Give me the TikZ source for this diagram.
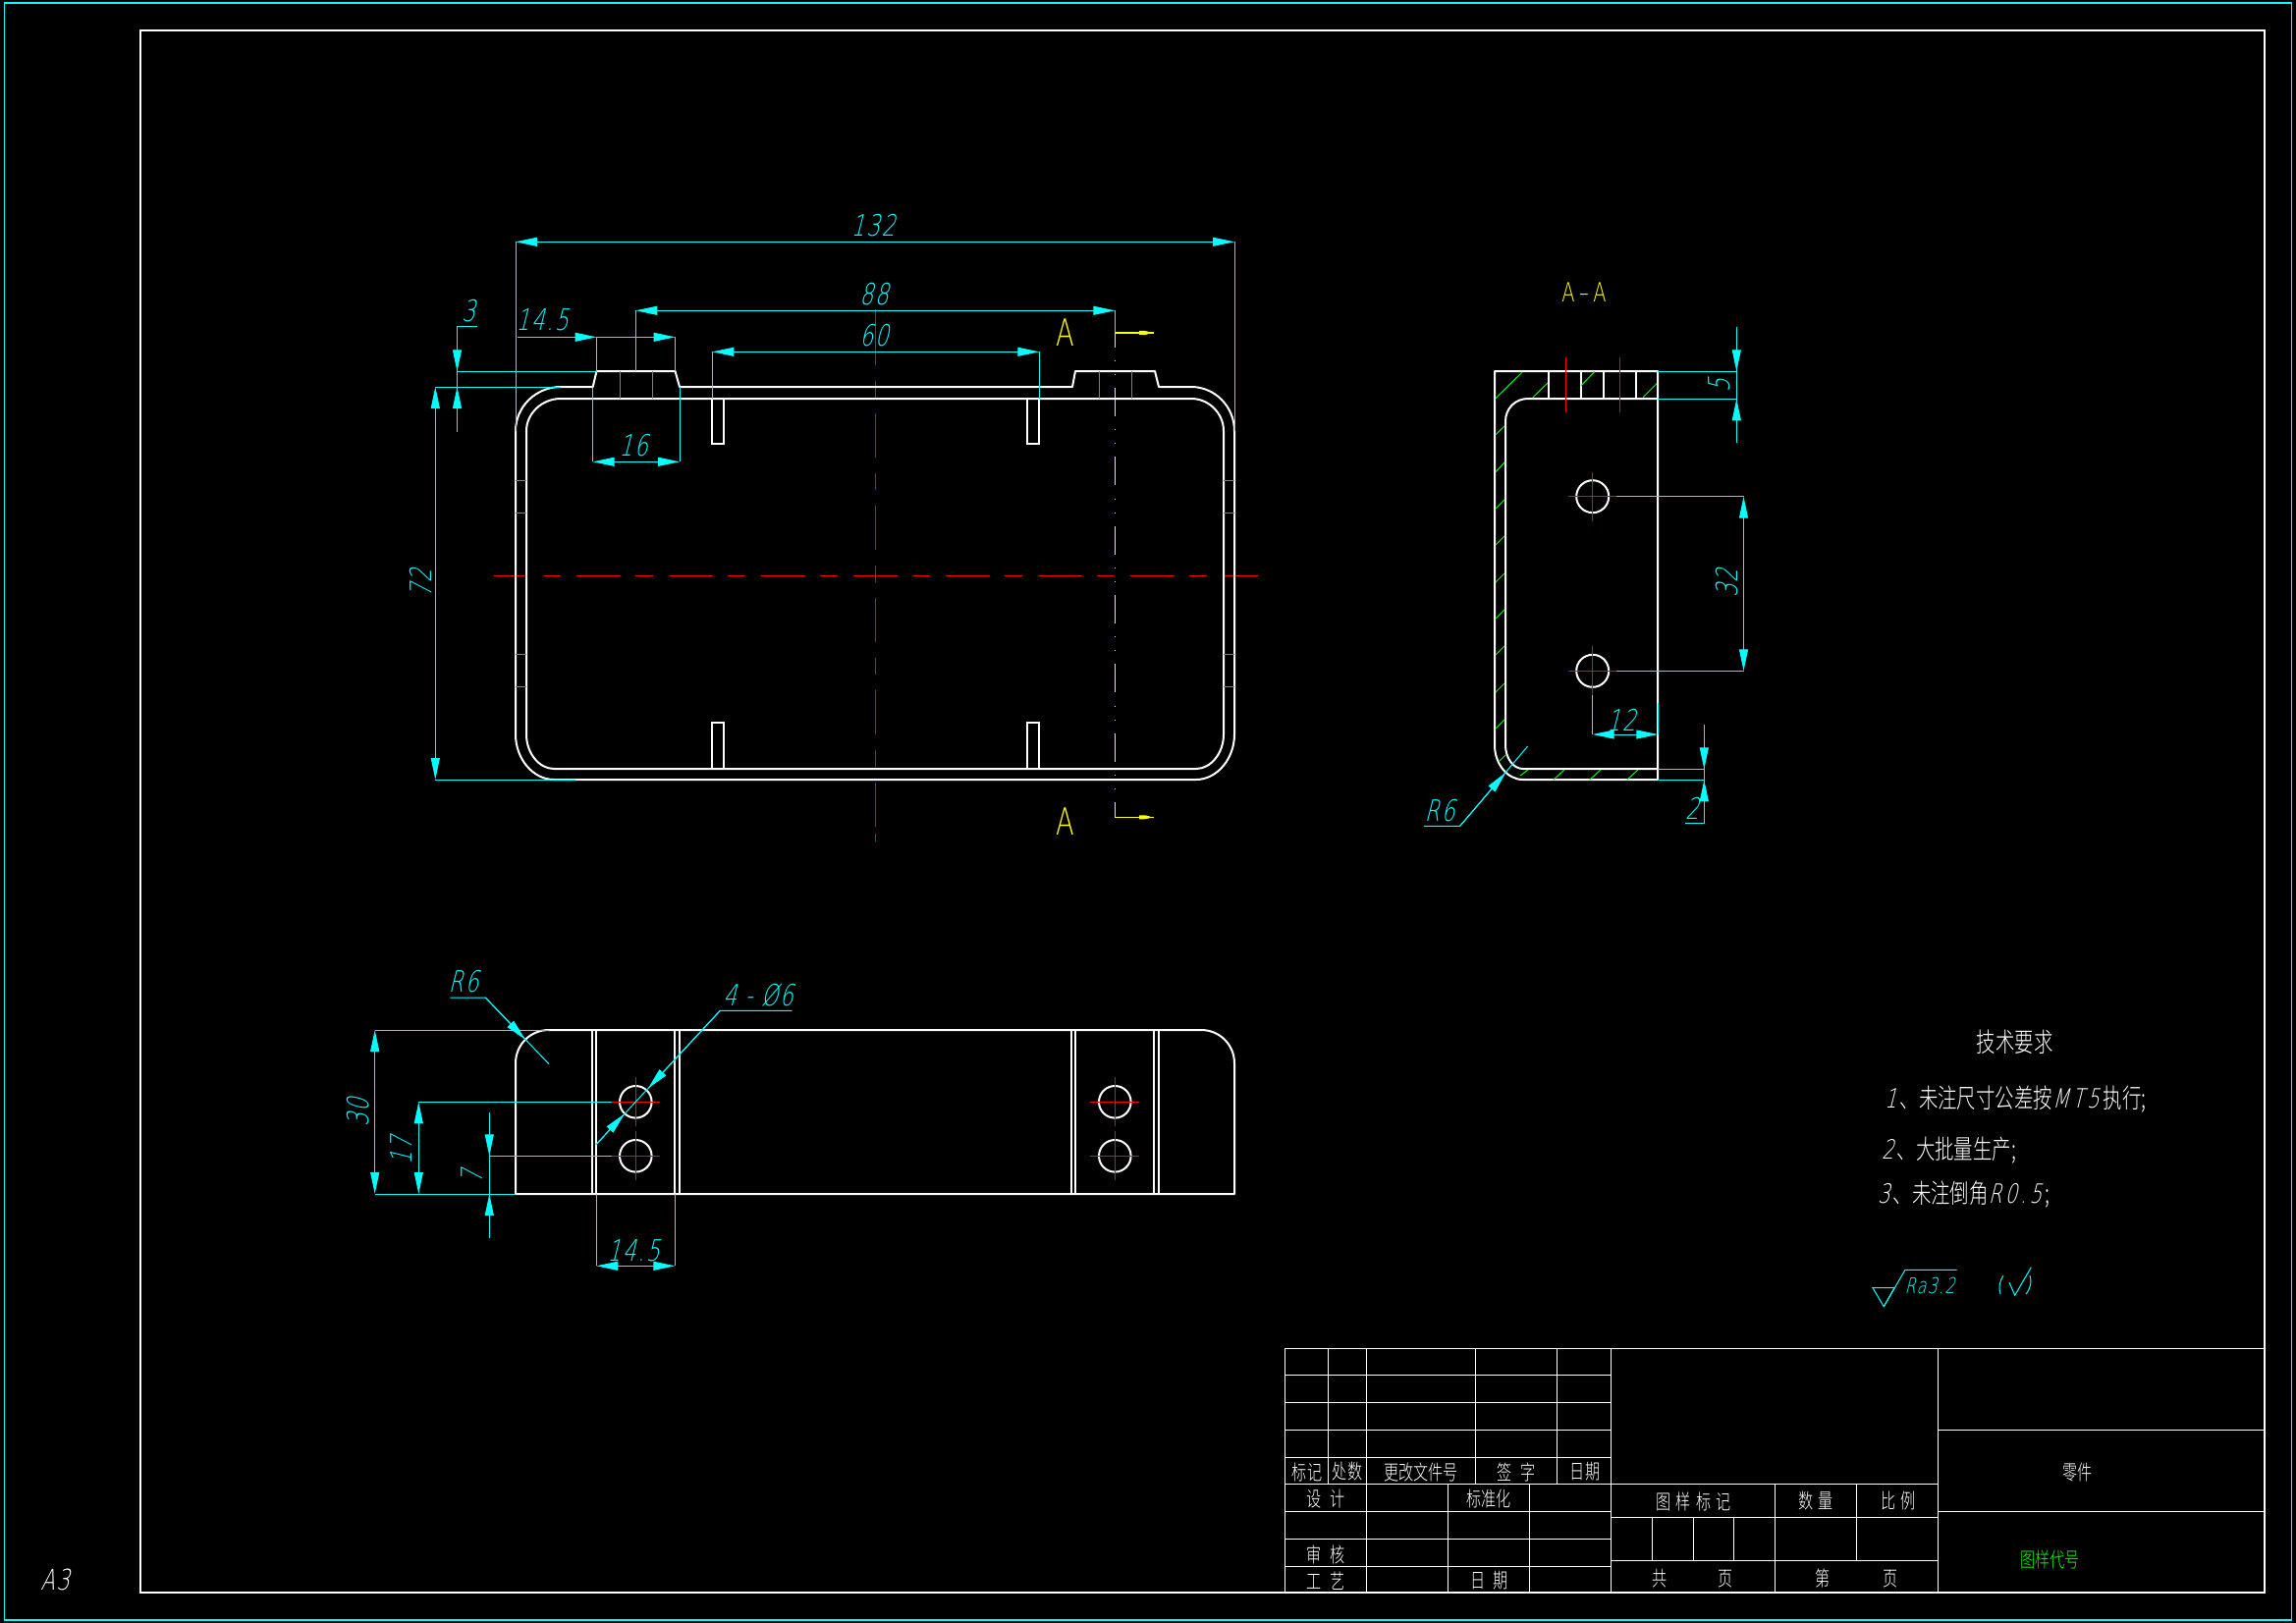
\documentclass[tikz,border=0pt]{standalone}
\usepackage{fontspec}
\usetikzlibrary{arrows.meta}
\newfontfamily\dimf[FakeSlant=0.25,FakeStretch=.72,LetterSpace=6]{DejaVu Sans ExtraLight}
\newfontfamily\latw[FakeSlant=0.25,FakeStretch=.72,LetterSpace=12]{DejaVu Sans ExtraLight}
\newfontfamily\dimu[FakeStretch=.72]{DejaVu Sans ExtraLight}
\newfontfamily\cjk[FakeStretch=.72]{Noto Sans CJK SC Light}
\definecolor{cy}{RGB}{0,255,255}
\definecolor{yl}{RGB}{255,255,0}
\definecolor{rd}{RGB}{255,0,0}
\definecolor{gn}{RGB}{0,255,0}
\definecolor{gy}{RGB}{128,128,128}
\newcommand{\sz}[1]{\fontsize{#1}{#1}\selectfont}
\tikzset{
  >={Triangle[length=22pt,width=9pt]},
  obj/.style={draw=white,line width=2pt},
  thin1/.style={draw=white,line width=1.1pt},
  dimln/.style={draw=cy,line width=1pt},
  gryln/.style={draw=gy,line width=1pt},
  redln/.style={draw=rd,line width=1.3pt},
  yelln/.style={draw=yl,line width=1.3pt},
  hat/.style={draw=gn,line width=1pt},
  dimt/.style={text=cy,inner sep=0pt,font=\dimf\sz{30}},
  secT/.style={text=yl,inner sep=0pt,font=\dimu\sz{38}},
  tb/.style={text=white,inner sep=0pt,font=\cjk\sz{21}},
  req/.style={text=white,inner sep=0pt,anchor=west,font=\sz{27}},
}
\begin{document}
\begin{tikzpicture}[x=1pt,y=-1pt]
\useasboundingbox (0,0) rectangle (2338,1653);
\fill[black] (0,0) rectangle (2338,1653);
% frames
\draw[dimln,line width=1.3pt] (4.5,3) rectangle (2333.5,1650);
\draw[obj] (143,31) rectangle (2306,1622);
% centre lines
\draw[redln] (891.5,315)--(891.5,372);
\draw[redln,dash pattern=on 17pt off 16pt on 45pt off 16pt] (891.5,388)--(891.5,857);
\draw[redln] (891.5,849)--(891.5,857);
\draw[redln] (503,586.3)--(537,586.3);
\draw[redln,dash pattern=on 18pt off 16pt on 45pt off 15pt] (553,586.3)--(1281,586.3);
\draw[yelln] (1135.3,339)--(1135.3,353.7);
\draw[yelln,dash pattern=on 1pt off 13pt on 1pt off 13pt on 29pt off 13.3pt] (1135.3,367)--(1135.3,832.3);
\draw[yelln] (1135.3,339)--(1175,339);
\fill[yl] (1160,337)--(1166,337)--(1171,338.2)--(1171,339.8)--(1166,341)--(1160,341)--cycle;
\draw[yelln] (1135.3,832.3)--(1175,832.3);
\fill[yl] (1160,830.3)--(1166,830.3)--(1171,831.5)--(1171,833.1)--(1166,834.3)--(1160,834.3)--cycle;
\node[secT] (secAtop) at (1085,339) {A};
\node[secT] (secAbot) at (1085.3,837) {A};
\node[secT,font=\dimu\sz{27}] (secAA) at (1613,297.5) {A\,–\,A};
% front view: outer and inner contour
\draw[obj,line join=round] (525,439)--(525,748) .. controls (525,773) and (543,794) .. (564,794)--(1218,794) .. controls (1239,794) and (1257,773) .. (1257,748)--(1257,439) .. controls (1257,414) and (1237,394) .. (1213,394)--(1180,394)--(1176,378)--(1095,378)--(1092,394)--(692,394)--(687.5,378)--(607.5,378)--(603.7,394)--(571,394) .. controls (546,394) and (525,414) .. (525,439)--cycle;
\draw[obj,line join=round] (536,439)--(536,748) .. controls (536,767) and (549,783) .. (564,783)--(1218,783) .. controls (1233,783) and (1246,767) .. (1246,748)--(1246,439) .. controls (1246,421) and (1231,406) .. (1213,406)--(571,406) .. controls (552,406) and (536,421) .. (536,439)--cycle;
\draw[obj] (725.4,406)--(725.4,452)--(736.5,452)--(736.5,406);
\draw[obj] (1045.7,406)--(1045.7,452)--(1058.3,452)--(1058.3,406);
\draw[obj] (725.4,783)--(725.4,736)--(736.5,736)--(736.5,783);
\draw[obj] (1045.7,783)--(1045.7,736)--(1058.3,736)--(1058.3,783);
\foreach \x in {631,664.5,1119,1152} \draw[gryln] (\x,378)--(\x,406);
\foreach \y in {489,522,666.3,699.3} {
  \draw[gryln] (525,\y)--(536,\y);
  \draw[gryln] (1246,\y)--(1257,\y);
}
% front view dimensions
\draw[dimln] (525,439)--(525,246.3);
\draw[dimln] (1257,439)--(1257,246.3);
\draw[dimln,<->] (525,246.3)--(1257,246.3);
\node[dimt] (d132) at (889,230) {132};
\draw[dimln] (647.3,378)--(647.3,316.3);
\draw[dimln] (1135.3,316.3)--(1135.3,339);
\draw[dimln,<->] (647.3,316.3)--(1135.3,316.3);
\node[dimt] (d88) at (890,300) {88};
\draw[dimln] (725.4,406)--(725.4,358.3);
\draw[dimln] (1058.3,406)--(1058.3,358.3);
\draw[dimln,<->] (725.4,358.3)--(1058.3,358.3);
\node[dimt] (d60) at (890,342) {60};
\draw[dimln] (607.5,378)--(607.5,343.3);
\draw[dimln] (687.5,378)--(687.5,343.3);
\draw[dimln,->] (527,343.3)--(607.5,343.3);
\draw[dimln,<-] (687.5,343.3)--(640,343.3)--(607.5,343.3);
\node[dimt] (d145a) at (552,326) {14.5};
\draw[dimln] (603.7,394)--(603.7,470.3);
\draw[dimln] (692,394)--(692,470.3);
\draw[dimln,<->] (603.7,470.3)--(692,470.3);
\node[dimt] (d16) at (645,454) {16};
\draw[dimln] (485.8,333)--(465.5,333)--(465.5,440);
\draw[dimln,->] (465.5,333)--(465.5,378.3);
\draw[dimln,->] (465.5,440)--(465.5,394);
\draw[dimln] (465.5,378.3)--(607.5,378.3);
\node[dimt] (d3) at (477,317) {3};
\draw[dimln] (571,394)--(443.3,394);
\draw[dimln] (585.7,794)--(443.3,794);
\draw[dimln,<->] (443.3,394)--(443.3,794);
\node[dimt,rotate=90] (d72) at (428,594) {72};
% section view
\draw[obj,line join=round] (1522,759)--(1522,378)--(1688,378)--(1688,794)--(1550.7,794) .. controls (1535,794) and (1522,778) .. (1522,759)--cycle;
\draw[obj,line join=round] (1688,406)--(1556,406) .. controls (1543,406) and (1533,416) .. (1533,429)--(1533,759) .. controls (1533,772) and (1541,783) .. (1550.7,783)--(1688,783);
\foreach \x in {1577,1610,1633,1666} \draw[obj] (\x,378)--(\x,406);
\foreach \a/\b/\c/\d in {1523/405.7/1550/379,1560.7/405/1576/390,1610/392.7/1624/378.3,1673/404.7/1687/390.7,1523/442.7/1532/434,1523/480.7/1532/471,1523/518/1532/509,1523/555/1532/546,1523/593/1532/584,1523/630/1532/621,1523/667/1532/658,1523/705/1532/696,1523/742/1532/733,1527/775/1533/769,1548/790/1556/784,1582/794/1593/784,1619/794/1630/784,1657/794/1668/784}
  \draw[hat] (\a,\b)--(\c,\d);
\draw[redln] (1594.3,364)--(1594.3,419.7);
\draw[redln] (1649.3,364)--(1649.3,419.7);
\draw[obj] (1621.7,505.7) circle[radius=16.5];
\draw[obj] (1621.7,683.3) circle[radius=16.5];
\foreach \y in {505.7,683.3} {
  \draw[redln] (1597,\y)--(1646,\y);
  \draw[redln] (1621.7,\y-25)--(1621.7,\y+25);
}
% section dimensions
\draw[dimln] (1688,378.3)--(1768.3,378.3);
\draw[dimln] (1688,406.3)--(1768.3,406.3);
\draw[dimln] (1768.3,333)--(1768.3,451);
\draw[dimln,->] (1768.3,333)--(1768.3,378.3);
\draw[dimln,->] (1768.3,451)--(1768.3,406.3);
\node[dimt,rotate=90] (d5) at (1751,393) {5};
\draw[dimln] (1646,505.7)--(1775.5,505.7);
\draw[dimln] (1646,683.3)--(1775.5,683.3);
\draw[dimln,<->] (1775.5,505.7)--(1775.5,683.3);
\node[dimt,rotate=90] (d32) at (1759,594) {32};
\draw[dimln] (1621.7,708)--(1621.7,748);
\draw[dimln] (1688.3,716)--(1688.3,748);
\draw[dimln,<->] (1621.7,748)--(1688.3,748);
\node[dimt] (d12) at (1651,733) {12};
\draw[dimln] (1688,783.3)--(1735.3,783.3);
\draw[dimln] (1688,794.3)--(1735.3,794.3);
\draw[dimln] (1735.3,738)--(1735.3,838)--(1716,838);
\draw[dimln,->] (1735.3,738)--(1735.3,783.3);
\draw[dimln,->] (1735.3,838)--(1735.3,794.3);
\node[dimt] (d2) at (1723,823) {2};
\draw[dimln] (1450,841.3)--(1486.7,841.3)--(1555.7,760);
\draw[dimln,->] (1486.7,841.3)--(1533.3,786.7);
\node[dimt] (r6a) at (1466,826) {R6};
% bottom view
\draw[obj,line join=round] (525,1083)--(525,1216)--(1257,1216)--(1257,1083) .. controls (1257,1064) and (1242,1049) .. (1223,1049)--(559,1049) .. controls (540,1049) and (525,1064) .. (525,1083)--cycle;
\foreach \x in {603.3,607.3,687.3,692,1091,1095,1175,1180} \draw[obj] (\x,1049)--(\x,1216);
\foreach \x in {647.3,1135.3} \foreach \y in {1122.3,1177.3} {
  \draw[obj] (\x,\y) circle[radius=16.3];
  \draw[redln] (\x-25,\y)--(\x+25,\y);
  \draw[redln] (\x,\y-25)--(\x,\y+25);
}
% bottom view dimensions
\draw[dimln] (559,1049)--(381.7,1049);
\draw[dimln] (525,1216)--(381.7,1216);
\draw[dimln,<->] (381.7,1049)--(381.7,1216);
\node[dimt,rotate=90] (d30) at (365,1133) {30};
\draw[dimln] (623,1122.3)--(426.3,1122.3);
\draw[dimln,<->] (426.3,1122.3)--(426.3,1216);
\node[dimt,rotate=90] (d17) at (409,1172) {17};
\draw[dimln] (623,1177.3)--(498.3,1177.3);
\draw[dimln] (498.3,1133)--(498.3,1260.7);
\draw[dimln,->] (498.3,1133)--(498.3,1177.3);
\draw[dimln,->] (498.3,1260.7)--(498.3,1216);
\node[dimt,rotate=90] (d7) at (481,1199) {7};
\draw[dimln] (607.3,1216)--(607.3,1289.3);
\draw[dimln] (687.3,1216)--(687.3,1289.3);
\draw[dimln,<->] (607.3,1289.3)--(687.3,1289.3);
\node[dimt] (d145b) at (645,1273.5) {14.5};
\draw[dimln] (458.3,1016)--(494.3,1016)--(559,1083.7);
\draw[dimln,->] (494.3,1016)--(535,1058.8);
\node[dimt] (r6b) at (472,1000) {R6};
\draw[dimln] (806.7,1029.3)--(733.3,1029.3)--(606.7,1166);
\draw[dimln,->] (733.3,1029.3)--(660,1108.4);
\draw[dimln,->] (606.7,1166)--(636,1134.4);
\node[dimt] (d4phi) at (772,1013.5) {4 - Ø6};
% A3
\node[text=white,inner sep=0pt,font=\dimf\sz{29}] (sheetA3) at (56,1609) {A3};
% technical requirements
\node[tb,font=\cjk\sz{27}] (reqT) at (2051.7,1061) {技术要求};
\node[req] (req1) at (1919,1120) {\dimf 1\hspace{3pt}\cjk 、未注尺寸公差按\latw MT5\hspace{4pt}\cjk 执行;};
\node[req] (req2) at (1916,1172) {\dimf 2\hspace{3pt}\cjk 、大批量生产;};
\node[req] (req3) at (1912,1217) {\dimf 3\hspace{3pt}\cjk 、未注倒角\latw R0.5\hspace{4pt}\cjk ;};
% surface finish
\draw[dimln] (1907,1311.7)--(1929,1311.7)--(1918.3,1330.7)--cycle;
\draw[dimln] (1918.3,1330.7)--(1940,1293.3)--(1992.7,1293.3);
\node[dimt,font=\dimf\sz{22}] (ra) at (1965,1309.5) {Ra3.2};
\draw[dimln] (2040,1299) .. controls (2036,1305) and (2035,1312) .. (2037,1318);
\draw[dimln] (2046,1306)--(2051.7,1319.3)--(2068.3,1290.7);
\draw[dimln] (2067,1299) .. controls (2069,1305) and (2068,1312) .. (2063,1318);
% title block
\draw[thin1] (1308.3,1373.3) rectangle (2306,1622);
\foreach \y in {1400.3,1428.3,1456.3,1484.3} \draw[thin1] (1308.3,\y)--(1640.3,\y);
\foreach \y in {1511.3,1539.3,1567.3,1595.3} \draw[thin1] (1308.3,\y)--(1640.3,\y);
\foreach \x in {1352.3,1391.3,1502.3,1585.3} \draw[thin1] (\x,1373.3)--(\x,1511.3);
\foreach \x in {1391.3,1474.3,1557.3} \draw[thin1] (\x,1511.3)--(\x,1622);
\draw[thin1] (1640.3,1373.3)--(1640.3,1622);
\draw[thin1] (1973.3,1373.3)--(1973.3,1622);
\draw[thin1] (1640.3,1511.3)--(1973.3,1511.3);
\draw[thin1] (1640.3,1545.3)--(1973.3,1545.3);
\draw[thin1] (1640.3,1589.3)--(1973.3,1589.3);
\draw[thin1] (1807.2,1511.3)--(1807.2,1622);
\draw[thin1] (1890.3,1511.3)--(1890.3,1589.3);
\foreach \x in {1682.2,1724.6,1765.3} \draw[thin1] (\x,1545.3)--(\x,1589.3);
\draw[thin1] (1973.3,1456.3)--(2306,1456.3);
\draw[thin1] (1973.3,1539.3)--(2306,1539.3);
\node[tb] (t1) at (1331,1499) {标记};
\node[tb] (t2) at (1372,1499) {处数};
\node[tb] (t3) at (1447,1499) {更改文件号};
\node[tb] (t4) at (1544,1499) {签\hspace{8pt}字};
\node[tb] (t5) at (1614,1499) {日期};
\node[tb] (t6) at (1350,1527) {设\hspace{8pt}计};
\node[tb] (t7) at (1516,1527) {标准化};
\node[tb] (t8) at (1350,1583) {审\hspace{8pt}核};
\node[tb] (t9) at (1350,1610) {工\hspace{8pt}艺};
\node[tb] (t10) at (1516.7,1610) {日\hspace{8pt}期};
\node[tb] (t11) at (1724.6,1529) {图\hspace{5pt}样\hspace{5pt}标\hspace{5pt}记};
\node[tb] (t12) at (1848.7,1529) {数\hspace{5pt}量};
\node[tb] (t13) at (1932.7,1529) {比\hspace{5pt}例};
\node[tb] (t14) at (1690,1608) {共};
\node[tb] (t15) at (1757,1608) {页};
\node[tb] (t16) at (1856,1608) {第};
\node[tb] (t17) at (1924.6,1608) {页};
\node[tb] (t18) at (2115.7,1499.5) {零件};
\node[tb,text=gn] (t19) at (2087.6,1589) {图样代号};
\end{tikzpicture}
\end{document}
